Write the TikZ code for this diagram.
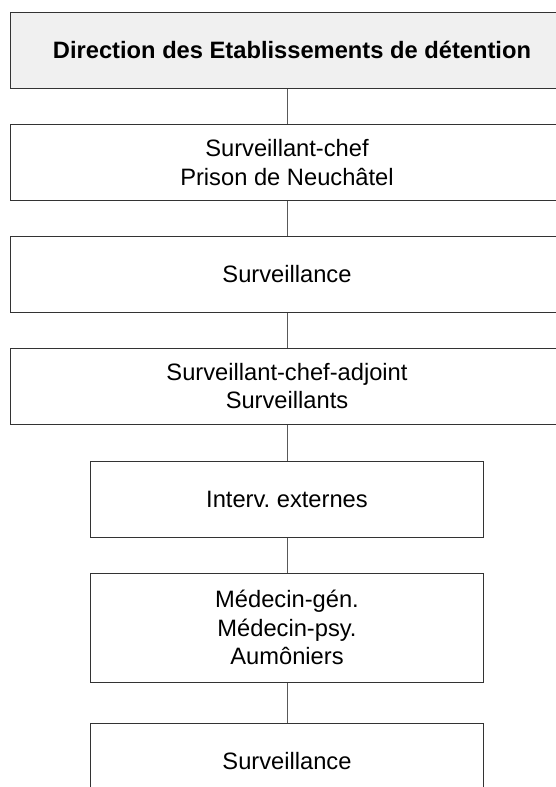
\documentclass[tikz,border=0pt]{standalone}
\usepackage{fontspec}
\setmainfont{Liberation Sans}
\usetikzlibrary{positioning}

\begin{document}
\begin{tikzpicture}[x=1pt,y=1pt,node distance=35pt,
  every node/.style={font=\fontsize{23.7}{28.5}\selectfont},
  box/.style={draw=black!80,line width=1pt,align=center,inner sep=0pt,minimum width=553.6pt,minimum height=76pt},
  smallbox/.style={box,minimum width=393.3pt,minimum height=75.4pt},
  link/.style={draw=black!65,line width=1pt}]
\useasboundingbox (0,0) rectangle (556,-787);
\node[box,fill=black!6,minimum width=563.6pt,minimum height=75.7pt,anchor=north west,font=\fontsize{23.7}{28.5}\selectfont\bfseries] (dir) at (9.7,-12) {Direction des Etablissements de détention};
\node[box,below=35.3pt of dir.south west,anchor=north west] (chef) {Surveillant-chef\\Prison de Neuchâtel};
\node[box,below=of chef] (surv) {Surveillance};
\node[box,minimum height=75.5pt,below=of surv] (adj) {Surveillant-chef-adjoint\\Surveillants};
\node[smallbox,below=36.8pt of adj] (ext) {Interv.\ externes};
\node[smallbox,minimum height=108.7pt,below=35.3pt of ext] (med) {Médecin-gén.\\Médecin-psy.\\Aumôniers};
\node[smallbox,below=40pt of med] (surv2) {Surveillance};
\draw[link] (chef.north) -- (chef.north |- dir.south);
\draw[link] (chef) -- (surv);
\draw[link] (surv) -- (adj);
\draw[link] (adj) -- (ext);
\draw[link] (ext) -- (med);
\draw[link] (med) -- (surv2);
\end{tikzpicture}
\end{document}
